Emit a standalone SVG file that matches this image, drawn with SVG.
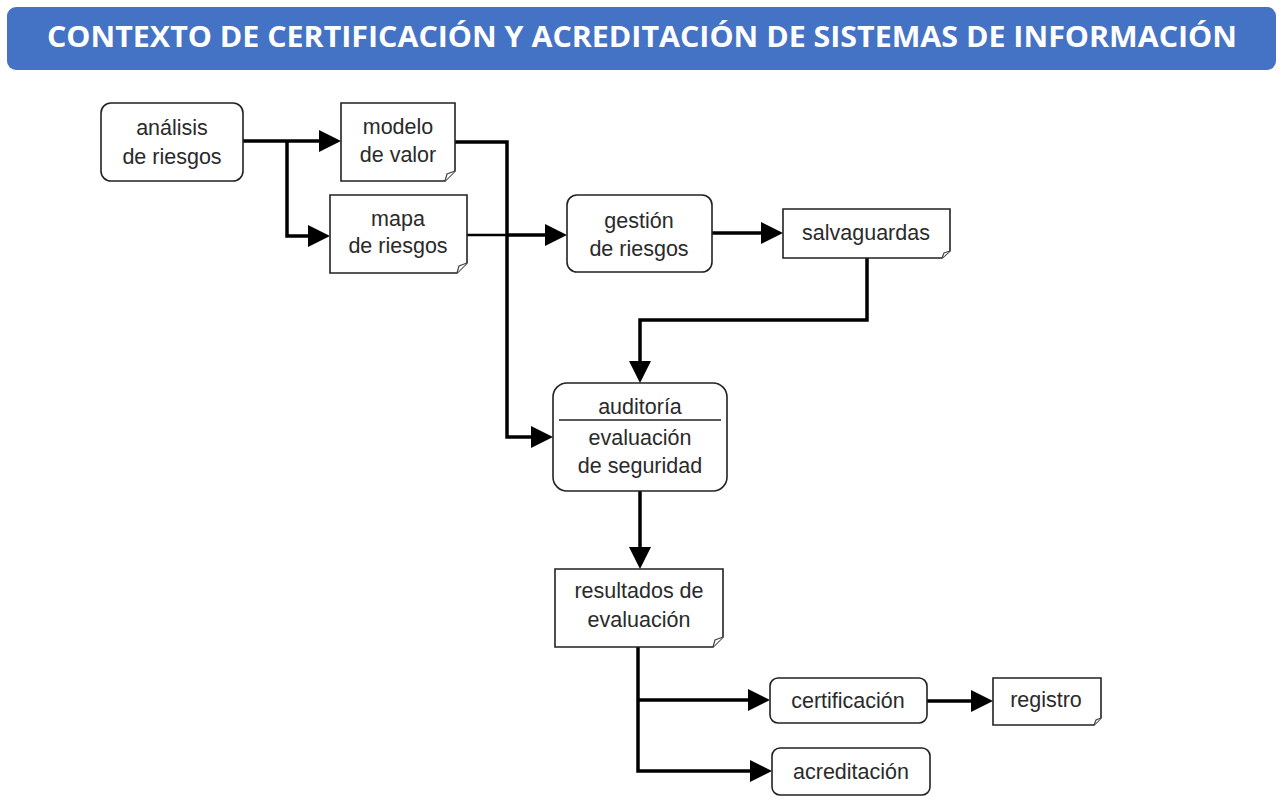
<svg xmlns="http://www.w3.org/2000/svg" width="1285" height="804" viewBox="0 0 1285 804">
<style>
.box{fill:#fff;stroke:#222;stroke-width:1.6}
.fold{fill:#fff;stroke:#444;stroke-width:1.2}
.t{font-family:"Liberation Sans",Arial,sans-serif;font-size:21.5px;fill:#2a2a2a;text-anchor:middle}
.c{fill:none;stroke:#000;stroke-width:3.5}
.thin{fill:none;stroke:#000;stroke-width:2.4}
.arr{fill:#000}
.title{font-family:"Open Sans","Liberation Sans",sans-serif;font-weight:bold;font-size:29px;fill:#fff;text-anchor:middle}
</style>
<rect width="1285" height="804" fill="#fff"/>
<g id="title">
<rect x="7" y="7" width="1269" height="63" rx="9" fill="#4472C4"/>
<text class="title" x="642" y="47" textLength="1190" lengthAdjust="spacingAndGlyphs">CONTEXTO DE CERTIFICACIÓN Y ACREDITACIÓN DE SISTEMAS DE INFORMACIÓN</text>
</g>
<g id="connectors">
<path class="c" d="M243,141 H322"/>
<path class="c" d="M287,141 V236 H312"/>
<path class="c" d="M455,142 H507 V437 H535"/>
<path class="thin" d="M467,235 H507"/>
<path class="c" d="M507,235 H549"/>
<path class="c" d="M712,233 H765"/>
<path class="c" d="M867,258 V320 H640 V365"/>
<path class="c" d="M640,491 V551"/>
<path class="c" d="M638,647 V771 H754"/>
<path class="c" d="M638,700 H752"/>
<path class="c" d="M927,701 H975"/>
<polygon class="arr" points="341,141 319,130 319,152"/>
<polygon class="arr" points="330,236 308,225 308,247"/>
<polygon class="arr" points="553,437 531,426 531,448"/>
<polygon class="arr" points="567,235 545,224 545,246"/>
<polygon class="arr" points="783,233 761,222 761,244"/>
<polygon class="arr" points="640,383 629,361 651,361"/>
<polygon class="arr" points="640,569 629,547 651,547"/>
<polygon class="arr" points="770,700 748,689 748,711"/>
<polygon class="arr" points="772,771 750,760 750,782"/>
<polygon class="arr" points="993,701 971,690 971,712"/>
</g>
<g id="analisis">
<rect class="box" x="101" y="103" width="142" height="78" rx="10"/>
<text class="t" x="172" y="135">análisis</text>
<text class="t" x="172" y="164">de riesgos</text>
</g>
<g id="modelo">
<path class="box" d="M341,103 H455 V171 L445,181 H341 Z"/>
<path class="fold" d="M445,181 L447,174 L455,171"/>
<text class="t" x="398" y="134">modelo</text>
<text class="t" x="398" y="162">de valor</text>
</g>
<g id="mapa">
<path class="box" d="M330,195 H467 V263 L457,273 H330 Z"/>
<path class="fold" d="M457,273 L459,266 L467,263"/>
<text class="t" x="398" y="226">mapa</text>
<text class="t" x="398" y="253">de riesgos</text>
</g>
<g id="gestion">
<rect class="box" x="567" y="195" width="145" height="77" rx="10"/>
<text class="t" x="639" y="228">gestión</text>
<text class="t" x="639" y="256">de riesgos</text>
</g>
<g id="salvaguardas">
<path class="box" d="M783,209 H950 V251 L942,258 H783 Z"/>
<path class="fold" d="M942,258 L944,253 L950,251"/>
<text class="t" x="866" y="240">salvaguardas</text>
</g>
<g id="auditoria">
<rect class="box" x="553" y="383" width="174" height="108" rx="14"/>
<line x1="559" y1="420" x2="721" y2="420" stroke="#222" stroke-width="1.6"/>
<text class="t" x="640" y="414">auditoría</text>
<text class="t" x="640" y="445">evaluación</text>
<text class="t" x="640" y="473">de seguridad</text>
</g>
<g id="resultados">
<path class="box" d="M555,569 H723 V637 L713,647 H555 Z"/>
<path class="fold" d="M713,647 L715,640 L723,637"/>
<text class="t" x="639" y="598">resultados de</text>
<text class="t" x="639" y="627">evaluación</text>
</g>
<g id="certificacion">
<rect class="box" x="770" y="678" width="157" height="45" rx="8"/>
<text class="t" x="848" y="708">certificación</text>
</g>
<g id="registro">
<path class="box" d="M993,678 H1101 V718 L1094,725 H993 Z"/>
<path class="fold" d="M1094,725 L1096,720 L1101,718"/>
<text class="t" x="1046" y="707">registro</text>
</g>
<g id="acreditacion">
<rect class="box" x="772" y="748" width="158" height="47" rx="8"/>
<text class="t" x="851" y="779">acreditación</text>
</g>
</svg>
